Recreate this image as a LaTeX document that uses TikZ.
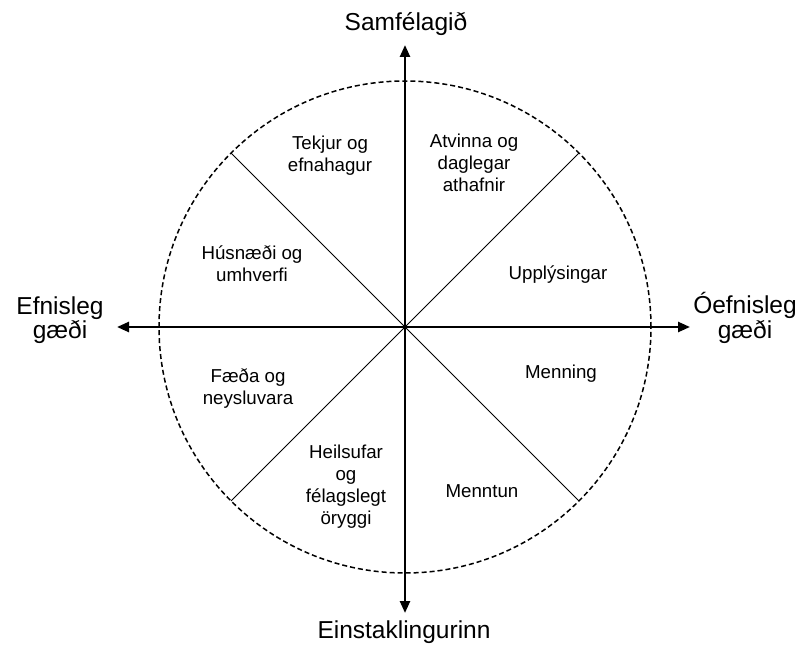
\documentclass[tikz,border=0pt]{standalone}
\usepackage{fontspec}
\setmainfont{Liberation Sans}
\usetikzlibrary{arrows.meta}
\begin{document}
\begin{tikzpicture}[x=1pt,y=-1pt,
  axis/.style={line width=2.5pt,{Triangle[length=12pt,width=10pt]}-{Triangle[length=12pt,width=10pt]}},
  ring/.style={circle,draw,dashed,dash pattern=on 5pt off 3pt,line width=1.5pt,minimum size=492pt,inner sep=0pt,outer sep=0pt},
  spoke/.style={line width=1pt},
  outer/.style={align=center,font=\fontsize{24.5}{23}\selectfont,inner sep=0pt},
  inner/.style={align=center,font=\fontsize{18.7}{22}\selectfont,inner sep=0pt}]
\useasboundingbox (0,0) rectangle (801,650);
\coordinate (c) at (405,327);
\node[ring] (circ) at (c) {};
\draw[spoke] (circ.45) -- (circ.225);
\draw[spoke] (circ.135) -- (circ.315);
\coordinate (top) at (405,45);
\coordinate (bot) at (405,613);
\coordinate (lft) at (117,327);
\coordinate (rgt) at (690,327);
\draw[axis] (bot) -- (top);
\draw[axis] (lft) -- (rgt);
\node[outer] (n1) at (406,24) {Samfélagið};
\node[outer] (n2) at (404,632) {Einstaklingurinn};
\node[outer] (n3) at (60,320) {Efnisleg\\gæði};
\node[outer] (n4) at (745,318) {Óefnisleg\\gæði};
\node[inner] (t1) at (330,156) {Tekjur og\\efnahagur};
\node[inner] (t2) at (474,163) {Atvinna og\\daglegar\\athafnir};
\node[inner] (t3) at (252,264) {Húsnæði og\\umhverfi};
\node[inner] (t4) at (558,275) {Upplýsingar};
\node[inner] (t5) at (248,389) {Fæða og\\neysluvara};
\node[inner] (t6) at (561,374) {Menning};
\node[inner] (t7) at (346,487) {Heilsufar\\og\\félagslegt\\öryggi};
\node[inner] (t8) at (482,491) {Menntun};
\end{tikzpicture}
\end{document}
